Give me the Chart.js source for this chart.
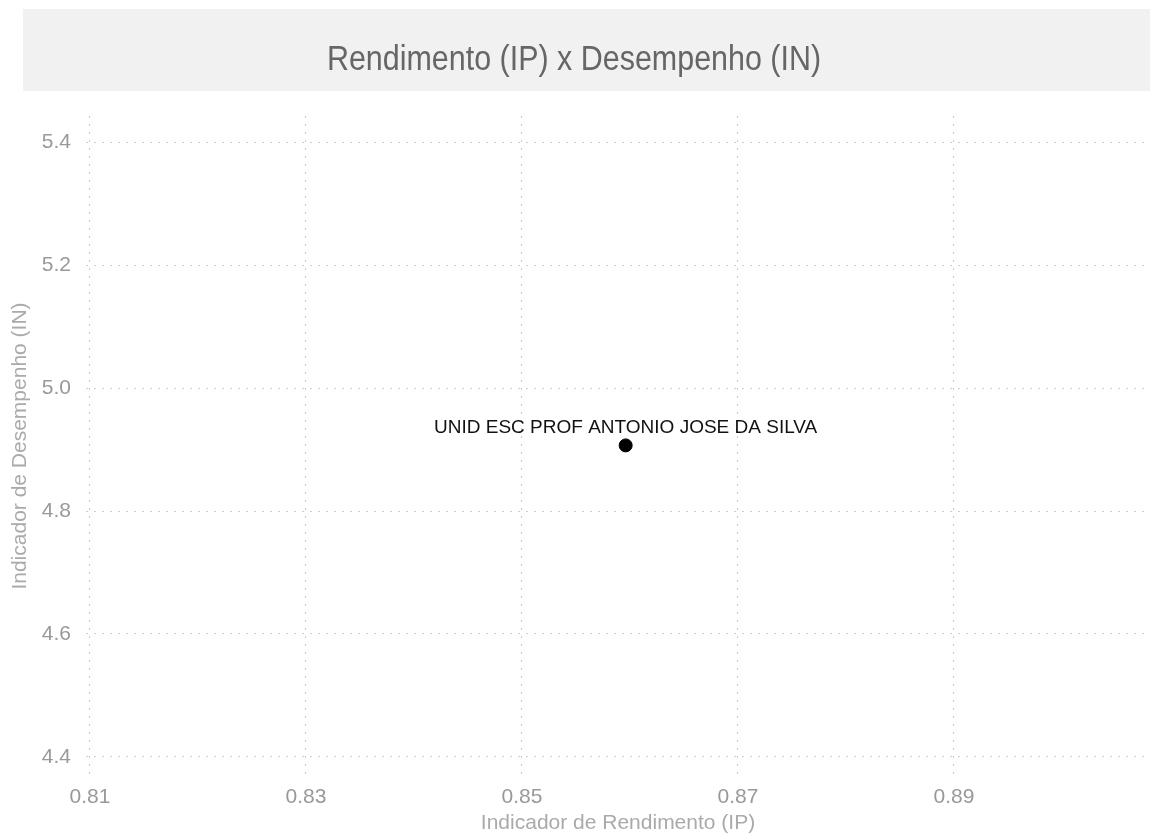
<!DOCTYPE html>
<html>
<head>
<meta charset="utf-8">
<script src="https://cdn.jsdelivr.net/npm/chart.js@4"></script>
<style>
  html, body { margin: 0; padding: 0; background: #fff; }
  #wrap { width: 1150px; height: 836px; }
</style>
</head>
<body>
<div id="wrap"><canvas id="myChart"></canvas></div>
<script>
const escolas = ['UNID ESC PROF ANTONIO JOSE DA SILVA'];
const rendimento = [0.8596];
const desempenho = [4.907];
const xTicks = [0.81, 0.83, 0.85, 0.87, 0.89];
const yTicks = [4.4, 4.6, 4.8, 5.0, 5.2, 5.4];
const titulo = 'Rendimento (IP) x Desempenho (IN)';

// grey band behind the title, title drawn narrow (condensed look)
const titleBar = {
    id: 'titleBar',
    beforeDraw(chart) {
        const c = chart.ctx;
        c.save();
        c.fillStyle = '#f1f1f1';
        c.fillRect(23, 9, chart.width - 23, 82);
        c.restore();
    },
    afterDraw(chart) {
        const c = chart.ctx;
        c.save();
        c.font = '35px "Liberation Sans", Arial, sans-serif';
        c.fillStyle = '#666';
        c.textAlign = 'center';
        c.textBaseline = 'alphabetic';
        c.translate(574, 70);
        c.scale(0.87, 1);
        c.fillText(titulo, 0, 0);
        c.restore();
    }
};

const pointLabels = {
    id: 'pointLabels',
    afterDatasetsDraw(chart) {
        const c = chart.ctx;
        const meta = chart.getDatasetMeta(0);
        c.save();
        c.font = '19px "Liberation Sans", Arial, Helvetica, sans-serif';
        c.fillStyle = '#111';
        c.textAlign = 'center';
        c.textBaseline = 'alphabetic';
        meta.data.forEach((pt, i) => {
            c.fillText(escolas[i], pt.x, pt.y - 12);
        });
        c.restore();
    }
};

const ctx = document.getElementById('myChart').getContext('2d');

const myChart = new Chart(ctx, {
    type: 'scatter',
    data: {
        datasets: [{
            label: 'Escolas',
            data: rendimento.map((v, i) => ({ x: v, y: desempenho[i] })),
            backgroundColor: '#000',
            borderColor: '#000',
            pointRadius: 6.5,
            pointHoverRadius: 6.5
        }]
    },
    options: {
        responsive: true,
        maintainAspectRatio: false,
        animation: false,
        events: [],
        layout: { autoPadding: false, padding: { top: 9, left: 0, right: 0, bottom: 0 } },
        plugins: {
            legend: { display: false },
            tooltip: { enabled: false },
            title: {
                display: true,
                text: titulo,
                color: 'rgba(0,0,0,0)',
                font: { family: '"Liberation Sans", Arial, sans-serif', size: 35, weight: 'normal', lineHeight: 1.2 },
                padding: { top: 28, bottom: 37 }
            }
        },
        scales: {
            x: {
                type: 'linear',
                min: 0.80963,
                max: 0.90815,
                afterBuildTicks: s => { s.ticks = xTicks.map(v => ({ value: v })); },
                afterFit: s => { s.height = 60; s.paddingLeft = 0; s.paddingRight = 0; },
                border: { display: false, dash: [2, 6] },
                grid: { color: 'rgba(0,0,0,0.2)', drawTicks: false, lineWidth: 1 },
                ticks: {
                    color: '#999',
                    padding: 9,
                    font: { family: '"Liberation Sans", Arial, sans-serif', size: 21 },
                    callback: v => v.toFixed(2)
                },
                title: {
                    display: true,
                    text: 'Indicador de Rendimento (IP)',
                    color: '#aaa',
                    font: { family: '"Liberation Sans", Arial, sans-serif', size: 21 },
                    padding: { top: 0, bottom: 0 }
                }
            },
            y: {
                type: 'linear',
                min: 4.3686,
                max: 5.4434,
                afterBuildTicks: s => { s.ticks = yTicks.map(v => ({ value: v })); },
                afterFit: s => { s.width = 86; },
                border: { display: false, dash: [2, 6] },
                grid: { color: 'rgba(0,0,0,0.2)', drawTicks: false, lineWidth: 1 },
                ticks: {
                    color: '#999',
                    padding: 15,
                    font: { family: '"Liberation Sans", Arial, sans-serif', size: 21 },
                    callback: v => v.toFixed(1)
                },
                title: {
                    display: true,
                    text: 'Indicador de Desempenho (IN)',
                    color: '#aaa',
                    font: { family: '"Liberation Sans", Arial, sans-serif', size: 21 },
                    padding: { top: 8, bottom: 4 }
                }
            }
        }
    },
    plugins: [titleBar, pointLabels]
});
</script>
</body>
</html>
